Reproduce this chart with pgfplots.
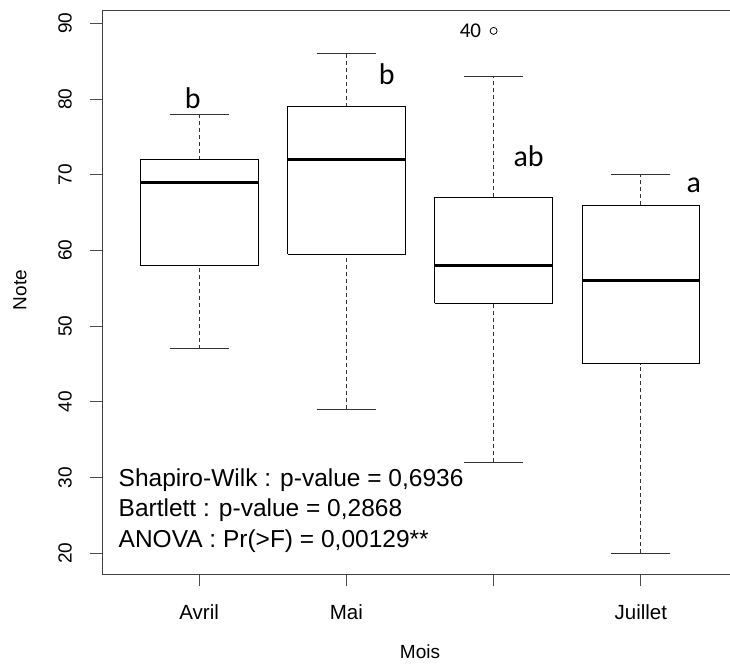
\documentclass[border=0pt]{standalone}
\usepackage{pgfplots}
\pgfplotsset{compat=1.18}
\usepackage{fontspec}
\setmainfont{Liberation Sans}
\newfontfamily\letterfont{Carlito}

\newcommand{\axisfont}{\fontsize{19}{22}\selectfont}

% One box: position, lower whisker, lower quartile, median, upper quartile, upper whisker
\newcommand{\rbox}[6]{%
  \pgfmathsetmacro\bl{#1-0.4}\pgfmathsetmacro\br{#1+0.4}%
  \pgfmathsetmacro\wl{#1-0.2}\pgfmathsetmacro\wr{#1+0.2}%
  \addplot[whisk] coordinates {(#1,#2) (#1,#3)};
  \addplot[whisk] coordinates {(#1,#5) (#1,#6)};
  \addplot[staple] coordinates {(\wl,#2) (\wr,#2)};
  \addplot[staple] coordinates {(\wl,#6) (\wr,#6)};
  \addplot[boxline] coordinates {(\bl,#3) (\br,#3) (\br,#5) (\bl,#5) (\bl,#3)};
  \addplot[medline] coordinates {(\bl,#4) (\br,#4)};
}

\begin{document}
\begin{tikzpicture}[x=1pt,y=1pt]
\begin{axis}[
  at={(102pt,-10pt)}, anchor=north west,
  scale only axis, width=636pt, height=564pt,
  xmin=0.34, xmax=4.66, ymin=17.24, ymax=91.76,
  axis lines*=left,
  xtick={1,2,3,4}, xticklabels={Avril,Mai,{},Juillet},
  ytick={20,30,...,90},
  tick align=outside, major tick length=12pt,
  every tick/.style={black!70, line width=0.9pt},
  axis line style={black!75, line width=0.9pt},
  tick label style={font=\axisfont},
  /pgf/number format/assume math mode=true,
  yticklabel style={rotate=90, anchor=south, inner sep=0pt},
  yticklabel shift=18pt,
  xticklabel style={anchor=north, inner sep=0pt, font=\fontsize{20.5}{23}\selectfont},
  xticklabel shift=18pt,
  clip=false,
  whisk/.style={black!80, line width=0.9pt, dash pattern=on 4pt off 3pt},
  staple/.style={black!80, line width=0.9pt},
  boxline/.style={black, line width=0.9pt, line join=miter},
  medline/.style={black, line width=3pt},
]
\draw[black!75, line width=0.9pt] (rel axis cs:0,1) -- (rel axis cs:1,1);

\rbox{1}{47}{58}{69}{72}{78}   % Avril
\rbox{2}{39}{59.5}{72}{79}{86} % Mai
\rbox{3}{32}{53}{58}{67}{83}   % Juin
\rbox{4}{20}{45}{56}{66}{70}   % Juillet

% outlying observation no. 40 (Juin)
\addplot[only marks, mark=o, mark size=3.5pt, black, line width=0.8pt] coordinates {(3,89)};

% group letters
\node[font=\letterfont\fontsize{30}{30}\selectfont, anchor=base, inner sep=0pt] at (axis cs:0.956,78.8) {b};
\node[font=\letterfont\fontsize{30}{30}\selectfont, anchor=base, inner sep=0pt] at (axis cs:2.274,81.9) {b};
\node[font=\letterfont\fontsize{30}{30}\selectfont, anchor=base, inner sep=0pt] at (axis cs:3.238,71.1) {ab};
\node[font=\letterfont\fontsize{30}{30}\selectfont, anchor=base, inner sep=0pt] at (axis cs:4.36,67.6) {a};
\node[font=\letterfont\fontsize{21}{21}\selectfont, anchor=base east, inner sep=0pt] at (axis cs:2.916,88.07) {40};

% test results
\node[font=\fontsize{24.5}{24.5}\selectfont, anchor=base west, inner sep=0pt] at (axis cs:0.452,28.84) {Shapiro-Wilk : p-value = 0,6936};
\node[font=\fontsize{24.5}{24.5}\selectfont, anchor=base west, inner sep=0pt] at (axis cs:0.452,24.87) {Bartlett : p-value = 0,2868};
\node[font=\fontsize{24.5}{24.5}\selectfont, anchor=base west, inner sep=0pt] at (axis cs:0.452,20.74) {ANOVA : Pr(>F) = 0,00129**};
\end{axis}

% axis titles
\node[font=\axisfont] at (420,-652) {Mois};
\node[font=\axisfont, rotate=90] at (20,-290) {Note};

\pgfresetboundingbox
\path[use as bounding box] (0,0) rectangle (730,-668);
\end{tikzpicture}
\end{document}
